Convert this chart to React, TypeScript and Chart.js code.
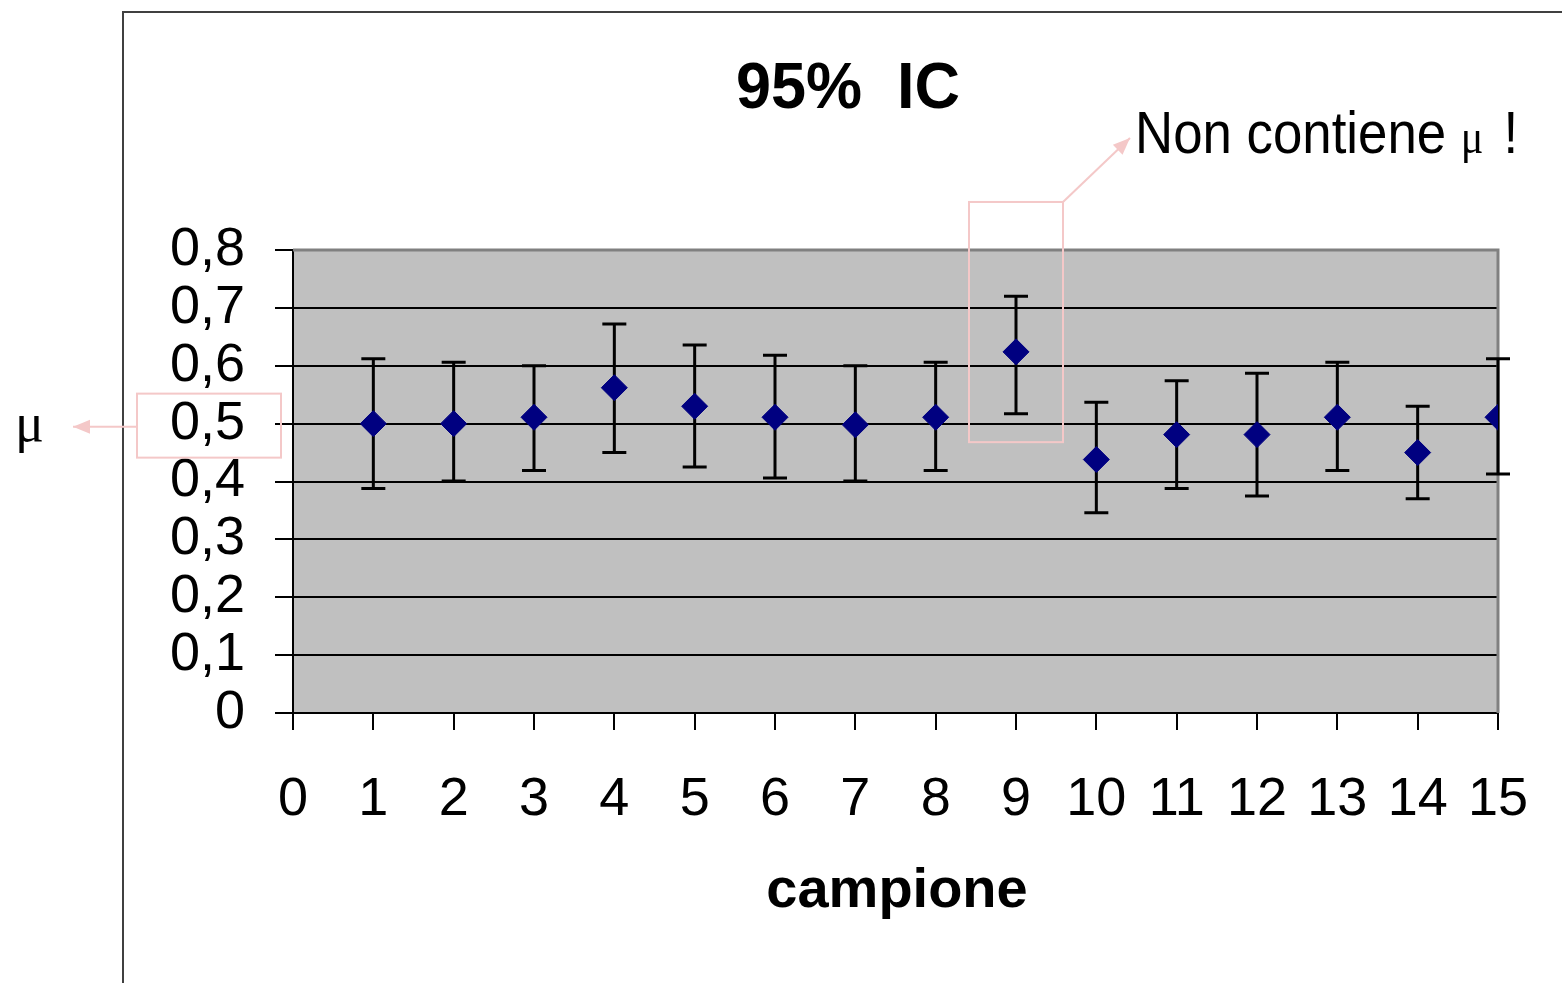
import React, { useEffect, useRef } from "react";
import { Chart, registerables } from "chart.js";

Chart.register(...registerables);

const samples = [1, 2, 3, 4, 5, 6, 7, 8, 9, 10, 11, 12, 13, 14, 15];
const means = [0.5, 0.5, 0.511, 0.562, 0.53, 0.511, 0.498, 0.511, 0.624, 0.438, 0.481, 0.481, 0.511, 0.45, 0.511];
const lower = [0.388, 0.401, 0.419, 0.45, 0.425, 0.406, 0.401, 0.419, 0.517, 0.346, 0.388, 0.375, 0.419, 0.37, 0.413];
const upper = [0.612, 0.606, 0.6, 0.672, 0.636, 0.618, 0.6, 0.606, 0.72, 0.537, 0.574, 0.587, 0.606, 0.53, 0.612];
const yTickValues = [0, 0.1, 0.2, 0.3, 0.4, 0.5, 0.6, 0.7, 0.8];
const xTickValues = [0, 1, 2, 3, 4, 5, 6, 7, 8, 9, 10, 11, 12, 13, 14, 15];

const titleText = "95%  IC";
const xTitle = "campione";
const noteText = "Non contiene ";
const muSymbol = "μ";
const muValue = 0.5;
const outlierIndex = 8;

const SANS = "'Liberation Sans', Arial, sans-serif";
const SERIF = "'Liberation Serif', 'Times New Roman', serif";
const PINK = "#F4C8C8";

function fmt(v: number): string {
  const r = Math.round(v * 10) / 10;
  if (r === 0) return "0";
  return r.toFixed(1).replace(".", ",");
}

function arrow(ctx: CanvasRenderingContext2D, x1: number, y1: number, x2: number, y2: number) {
  ctx.beginPath();
  ctx.moveTo(x1, y1);
  ctx.lineTo(x2, y2);
  ctx.stroke();
  const ang = Math.atan2(y2 - y1, x2 - x1);
  const len = 17;
  const hw = 7;
  ctx.beginPath();
  ctx.moveTo(x2, y2);
  ctx.lineTo(x2 - len * Math.cos(ang) + hw * Math.sin(ang), y2 - len * Math.sin(ang) - hw * Math.cos(ang));
  ctx.lineTo(x2 - len * Math.cos(ang) - hw * Math.sin(ang), y2 - len * Math.sin(ang) + hw * Math.cos(ang));
  ctx.closePath();
  ctx.fill();
}

const decorPlugin = {
  id: "decor",
  beforeDraw(chart: any) {
    const { ctx, chartArea } = chart;
    ctx.save();
    ctx.fillStyle = "#ffffff";
    ctx.fillRect(0, 0, chart.width, chart.height);
    // outer chart frame
    ctx.strokeStyle = "#404040";
    ctx.lineWidth = 2;
    ctx.beginPath();
    ctx.moveTo(123, chart.height + 2);
    ctx.lineTo(123, 12);
    ctx.lineTo(chart.width + 2, 12);
    ctx.stroke();
    // plot background
    ctx.fillStyle = "#C0C0C0";
    ctx.fillRect(chartArea.left, chartArea.top, chartArea.right - chartArea.left, chartArea.bottom - chartArea.top);
    ctx.restore();
  },
  beforeDatasetsDraw(chart: any) {
    const { ctx, chartArea } = chart;
    const xs = chart.scales.x;
    const ys = chart.scales.y;
    ctx.save();
    // plot border (top/right)
    ctx.strokeStyle = "#808080";
    ctx.lineWidth = 3;
    ctx.beginPath();
    ctx.moveTo(chartArea.left, chartArea.top);
    ctx.lineTo(chartArea.right, chartArea.top);
    ctx.lineTo(chartArea.right, chartArea.bottom);
    ctx.stroke();
    // error bars
    ctx.strokeStyle = "#000000";
    ctx.lineWidth = 3;
    for (let i = 0; i < samples.length; i++) {
      const x = xs.getPixelForValue(samples[i]);
      const yl = ys.getPixelForValue(lower[i]);
      const yu = ys.getPixelForValue(upper[i]);
      ctx.beginPath();
      ctx.moveTo(x, yl);
      ctx.lineTo(x, yu);
      ctx.moveTo(x - 12, yl);
      ctx.lineTo(x + 12, yl);
      ctx.moveTo(x - 12, yu);
      ctx.lineTo(x + 12, yu);
      ctx.stroke();
    }
    ctx.restore();
  },
  afterDraw(chart: any) {
    const { ctx } = chart;
    const xs = chart.scales.x;
    const ys = chart.scales.y;
    ctx.save();
    // title
    ctx.fillStyle = "#000000";
    ctx.textAlign = "center";
    ctx.textBaseline = "alphabetic";
    ctx.font = `bold 64px ${SANS}`;
    ctx.fillText(titleText, 848, 108, 224);
    // x axis title
    ctx.font = `bold 56px ${SANS}`;
    ctx.fillText(xTitle, 897, 907);

    // note text "Non contiene μ !"
    ctx.textAlign = "left";
    ctx.save();
    ctx.translate(1135, 153);
    ctx.scale(0.88, 1);
    ctx.font = `60px ${SANS}`;
    ctx.fillText(noteText, 0, 0);
    let w = ctx.measureText(noteText).width;
    ctx.font = `48px ${SERIF}`;
    ctx.fillText(muSymbol, w, 0);
    w += ctx.measureText(muSymbol).width;
    ctx.font = `60px ${SANS}`;
    ctx.fillText(" !", w + 6, 0);
    ctx.restore();

    // mu on the left
    ctx.font = `54px ${SERIF}`;
    ctx.fillText(muSymbol, 15, 441);

    // pink annotations
    ctx.strokeStyle = PINK;
    ctx.fillStyle = PINK;
    ctx.lineWidth = 2;
    const yMu = ys.getPixelForValue(muValue);
    const b1x = 137;
    const b1r = xs.left - 12;
    ctx.strokeRect(b1x, yMu - 30, b1r - b1x, 64);
    arrow(ctx, b1x, yMu + 3, 73, yMu + 3);

    const px = xs.getPixelForValue(samples[outlierIndex]);
    const bTop = ys.getPixelForValue(0.883);
    const bBot = ys.getPixelForValue(0.468);
    ctx.strokeRect(px - 47, bTop, 94, bBot - bTop);
    arrow(ctx, px + 47, bTop, 1130, 138);
    ctx.restore();
  },
};

export default function App() {
  const ref = useRef<HTMLCanvasElement>(null);
  useEffect(() => {
    document.body.style.margin = "0";
    const canvas = ref.current;
    if (!canvas) return;
    const chart = new Chart(canvas, {
      type: "scatter",
      data: {
        datasets: [
          {
            label: "media",
            data: samples.map((s, i) => ({ x: s, y: means[i] })),
            pointStyle: "rectRot",
            pointRadius: 13,
            pointHoverRadius: 13,
            backgroundColor: "#000080",
            borderColor: "#000080",
            borderWidth: 1,
            showLine: false,
          },
        ],
      },
      options: {
        responsive: false,
        animation: false,
        events: [],
        layout: { padding: { top: 250, right: 64, left: 0, bottom: 0 } },
        plugins: {
          legend: { display: false },
          tooltip: { enabled: false },
          title: { display: false },
        },
        scales: {
          x: {
            type: "linear",
            min: 0,
            max: 15,
            afterFit: (scale: any) => {
              scale.height = 270;
              scale.paddingLeft = 0;
              scale.paddingRight = 0;
            },
            afterBuildTicks: (scale: any) => {
              scale.ticks = xTickValues.map((v) => ({ value: v }));
            },
            border: { display: true, color: "#000000", width: 2 },
            grid: {
              drawOnChartArea: false,
              drawTicks: true,
              tickLength: 17,
              tickColor: "#000000",
              tickWidth: 2,
              color: "#000000",
              lineWidth: 2,
            },
            ticks: {
              color: "#000000",
              padding: 38,
              maxRotation: 0,
              autoSkip: false,
              font: { family: SANS, size: 54 },
              callback: (v: any) => String(v),
            },
          },
          y: {
            type: "linear",
            min: 0,
            max: 0.8,
            afterFit: (scale: any) => {
              scale.width = 293;
              scale.paddingTop = 0;
              scale.paddingBottom = 0;
            },
            afterBuildTicks: (scale: any) => {
              scale.ticks = yTickValues.map((v) => ({ value: v }));
            },
            border: { display: true, color: "#000000", width: 2 },
            grid: {
              drawOnChartArea: true,
              drawTicks: true,
              tickLength: 18,
              tickColor: "#000000",
              tickWidth: 2,
              color: (c: any) => (c.tick && Math.abs(c.tick.value - 0.8) < 1e-6 ? "#808080" : "#000000"),
              lineWidth: 2,
            },
            ticks: {
              color: "#000000",
              padding: 30,
              autoSkip: false,
              font: { family: SANS, size: 54 },
              callback: (v: any) => fmt(Number(v)),
            },
          },
        },
      },
      plugins: [decorPlugin],
    });
    return () => chart.destroy();
  }, []);
  return (
    <div style={{ width: 1562, height: 983, position: "relative" }}>
      <canvas ref={ref} width={1562} height={983} style={{ display: "block" }} />
    </div>
  );
}
